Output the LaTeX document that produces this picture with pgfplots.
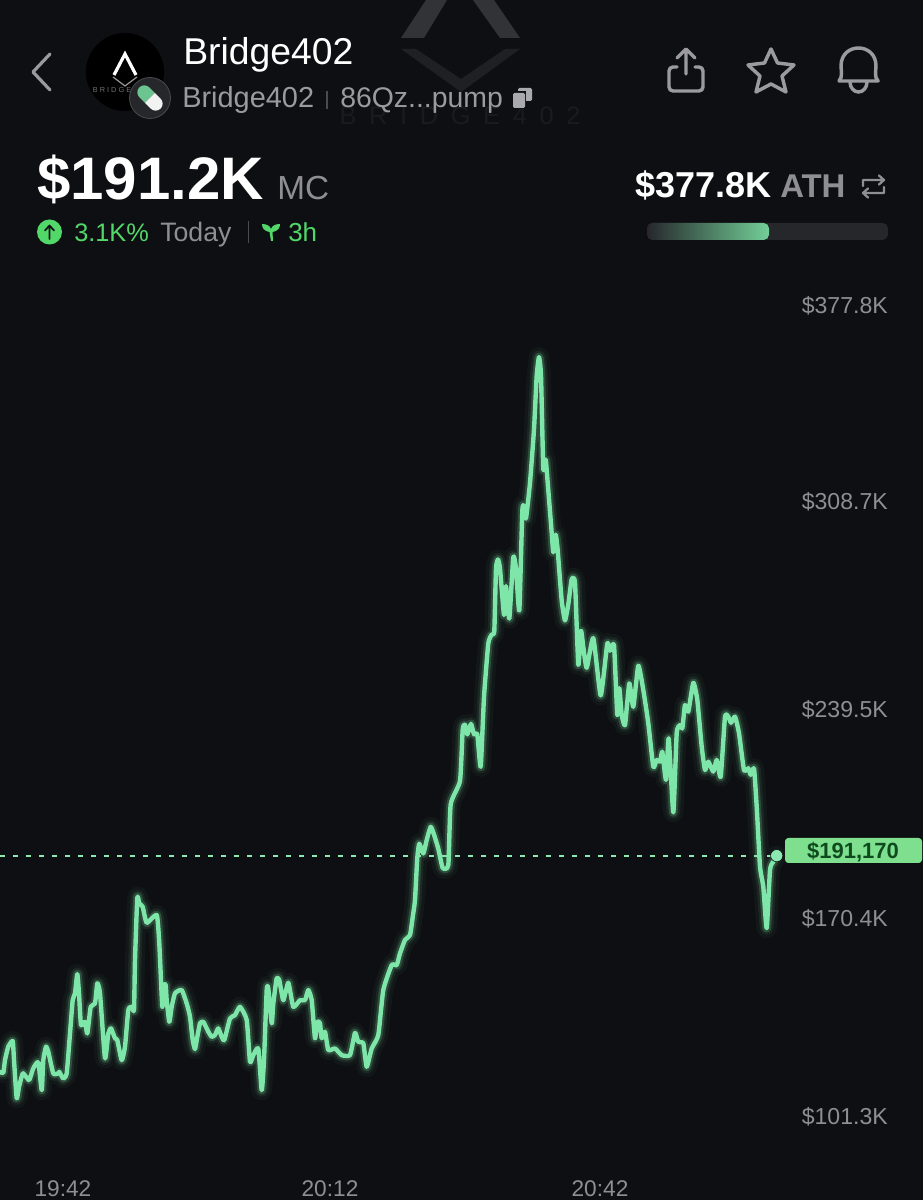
\documentclass[border=0pt]{standalone}
\usepackage{pgfplots}
\usepackage{pgfplotstable}
\usepackage{fontspec}
\setmainfont{Liberation Sans}
\pgfplotsset{compat=1.18}
\definecolor{bg}{HTML}{0E0F13}
\definecolor{line}{HTML}{7FE6A9}
\definecolor{grayt}{HTML}{8E8E93}
\definecolor{grayi}{HTML}{9A9AA0}
\definecolor{greent}{HTML}{52D869}
\definecolor{boxg}{HTML}{7EE08E}
\definecolor{boxt}{HTML}{0F4A1E}
\definecolor{track}{HTML}{26272B}
\newcommand{\fs}[1]{\fontsize{#1}{#1}\selectfont}
\pgfplotstableread{
x v
0 119.1
3.3 118.8
5 123.0
8.3 127.5
12.7 129.4
14 123.0
16.7 110.3
19 114.1
22.7 118.6
26 117.5
29.3 116.4
33.3 120.3
38.3 122.3
41.7 113.0
43.3 123.0
46 127.5
48.3 125.8
53.3 118.6
58.3 118.6
59.3 119.1
63.3 116.9
66.7 118.6
70 131.9
72.7 143.0
75 145.3
77.3 151.7
79 145.3
81 134.7
85 135.8
87.3 131.9
90.7 140.8
95 141.9
97.3 148.6
100 145.3
105 123.6
108.3 131.9
111 133.6
115 130.3
117.3 129.7
121.7 123.0
125 127.5
128.3 139.7
131.7 140.8
134 139.7
135 156.4
137.3 177.1
139.3 175.3
142.7 174.1
146.7 168.8
156.7 171.4
159.3 161.9
162.3 140.8
164 148.0
165.7 148.0
166.7 143.0
169.3 135.8
171.7 140.8
175 145.3
181.7 146.4
186.7 141.9
190 137.5
192.7 129.7
195 126.7
197.3 130.8
200 135.3
203.3 135.8
208.3 132.5
211.7 130.8
215 131.4
218.3 133.6
221.7 130.8
224.3 129.7
230 136.9
235 138.0
240 140.8
246.7 136.4
250 122.5
253.3 124.7
258.3 126.9
261.7 113.0
264 123.0
266.7 146.4
268.3 146.9
271.7 135.3
273.3 141.9
276.7 150.3
279.3 149.7
283.3 143.0
288.3 148.8
293.3 140.8
300 143.0
305 143.0
308.3 146.4
311.7 143.0
315 130.3
317.3 135.8
320 135.3
321.7 130.3
325 132.5
328.3 126.4
335 126.9
341.7 124.7
350 124.7
355 132.1
358.3 129.1
363.3 128.6
366.7 120.8
371.7 126.9
378.3 131.4
383.3 146.4
391.7 154.7
396.7 154.7
400 158.6
405 163.1
410 164.7
413 171.4
415 176.4
417.3 190.5
419.3 195.2
423.3 191.9
426.7 196.4
430.7 200.8
434 198.2
438.3 193.5
442.7 187.1
448.3 188.1
450.7 208.3
460 216.1
462.7 233.3
465 234.8
467.3 231.6
471 235.1
474 231.6
477.3 231.6
480.7 220.8
484 244.1
488.3 261.9
491.7 264.9
494.3 266.1
496 286.9
498 289.9
500 286.9
504 271.4
506 281.0
509.3 270.2
513.3 290.7
516 286.9
519.3 272.9
522.3 306.0
524 307.7
526 303.6
530 315.5
534 333.3
536.7 351.2
539 357.4
541 351.2
543.3 320.2
545.7 323.2
547.7 315.5
551.7 298.8
553.3 292.3
555.7 298.2
557.7 292.9
561.7 276.2
565 269.6
568.3 275.0
571.7 283.3
575 282.1
578.3 254.8
581 266.1
583.3 260.7
586.7 253.8
593.3 263.7
600.7 244.6
607.3 261.9
610 259.5
614 261.3
617.3 238.1
619.3 247.0
621.7 238.1
625 234.7
629.3 248.6
633.3 240.8
638.3 254.5
643.3 246.4
648.3 235.3
653.3 220.8
656.7 223.1
660 222.5
662.3 225.8
666 216.4
668.7 230.3
673.3 205.6
676.7 232.0
680 234.7
682.3 233.6
685 241.4
688.3 239.2
693.3 248.8
697.3 243.1
701.7 227.5
705 219.7
708.3 222.5
713.3 219.2
716.7 223.1
720.7 217.5
725 237.5
728.3 237.5
731 235.5
735 237.5
739 232.0
744 219.7
748.3 220.3
750.7 218.1
754 220.3
756.7 207.5
760 187.5
763.3 180.8
766.7 167.0
770 186.4
773.3 189.2
776.7 191.2
}\mc
\begin{document}
\begin{tikzpicture}
\fill[bg] (0,0) rectangle (692.25pt,900pt);
% header, in pixel coordinates of the reference
\begin{scope}[shift={(0pt,900pt)},x=0.75pt,y=-0.75pt]
  % watermark
  \fill[white!15!bg] (426,0) -- (401,38) -- (424,38) -- (447,0) -- cycle;
  \fill[white!15!bg] (473,0) -- (500,38) -- (520,38) -- (494,0) -- cycle;
  \fill[white!7!bg] (401,49) -- (461,92) -- (520,49) -- (505,49) -- (461,79) -- (416,49) -- cycle;
  \node[white!5!bg,anchor=base,inner sep=0] at (460,125) {\fs{19}B\,\,\,R\,\,\,I\,\,\,D\,\,\,G\,\,\,E\,\,\,4\,\,\,0\,\,\,2};
  % back
  \draw[grayi,line width=2.4pt,line cap=round,line join=round] (50,54) -- (33,72) -- (50,90);
  % avatar
  \fill[black] (125,72) circle (39);
  \draw[white,line width=2.4pt,line join=miter] (114,75) -- (125,54) -- (136,75);
  \draw[white!60!black,line width=.9pt] (113,77) -- (125,86) -- (137,77);
  \node[white!45!black,inner sep=0] at (112,90) {\fs{5.5}B R I D G E};
  \fill[track] (150,98) circle (20.5);
  \draw[white!25!bg,line width=.6pt] (150,98) circle (20.5);
  \begin{scope}[shift={(150,98)},rotate=-45]
    \begin{scope}
      \clip (-25,-25) rectangle (0,25);
      \draw[line!85!black,line width=10.5pt,line cap=round] (-8,0) -- (8,0);
    \end{scope}
    \begin{scope}
      \clip (0,-25) rectangle (25,25);
      \draw[white!90!gray,line width=10.5pt,line cap=round] (-8,0) -- (8,0);
    \end{scope}
  \end{scope}
  % titles
  \node[white,anchor=base west,inner sep=0] at (183,65) {\fs{28}Bridge402};
  \node[grayi,anchor=base west,inner sep=0] at (182,108) {\fs{21.7}Bridge402};
  \draw[white!25!bg,line width=.8pt] (327,91) -- (327,109);
  \node[grayi,anchor=base west,inner sep=0] at (340,108) {\fs{21.3}86Qz...pump};
  \fill[grayi!85!white,rounded corners=1pt] (518,88) rectangle (532,101);
  \fill[bg] (511,91) rectangle (526,109);
  \fill[grayi!85!white,rounded corners=1pt] (513,93) rectangle (525,108);
  % share
  \draw[grayi,line width=2.6pt,line cap=round,line join=round,rounded corners=3pt] (677,67) -- (669,67) -- (669,91) -- (703,91) -- (703,67) -- (695,67);
  \draw[grayi,line width=2.6pt,line cap=round,line join=round] (686,74) -- (686,50) (677,58) -- (686,49) -- (695,58);
  % star
  \draw[grayi,line width=2.6pt,line join=round] (771,49) -- (777.5,63) -- (794,65) -- (782,76) -- (786,92) -- (771,84) -- (756,92) -- (760,76) -- (748,65) -- (764.5,63) -- cycle;
  % bell
  \draw[grayi,line width=2.6pt,line join=round,line cap=round] (839,81) .. controls (843,77) and (841,70) .. (841,66) .. controls (841,42) and (876,42) .. (876,66) .. controls (876,70) and (874,77) .. (878,81) -- cycle;
  \draw[grayi,line width=2.6pt] (850,82) arc (180:0:8.5 and 10);
  % headline
  \node[white,anchor=base west,inner sep=0] at (37,200) {\fs{45}\bfseries\$191.2K};
  \node[grayt,anchor=base west,inner sep=0] at (277,200) {\fs{25}MC};
  \fill[greent] (49.5,232) circle (12.5);
  \draw[bg,line width=1.3pt,line cap=round,line join=round] (49.5,239) -- (49.5,226) (45,230.5) -- (49.5,225.5) -- (54,230.5);
  \node[greent,anchor=base west,inner sep=0] at (74,241.5) {\fs{19}3.1K\%};
  \node[grayt,anchor=base west,inner sep=0] at (160,241.5) {\fs{20}Today};
  \draw[white!25!bg,line width=.7pt] (248,221) -- (248,243);
  \fill[greent] (271,241) -- (269.5,232) .. controls (264,231) and (262,228) .. (262,224) .. controls (267,224) and (270,226) .. (271,229) .. controls (272,226) and (275,224) .. (280,224) .. controls (280,228) and (278,231) .. (272.5,232) -- (273,241) -- cycle;
  \node[greent,anchor=base west,inner sep=0] at (288,241.5) {\fs{19.5}3h};
  \node[white,anchor=base west,inner sep=0] at (635,198) {\fs{27}\bfseries\$377.8K};
  \node[grayt,anchor=base west,inner sep=0] at (780,198) {\fs{24.7}\bfseries ATH};
  \draw[grayt,line width=1.7pt,line cap=round,line join=round]
     (863,186) -- (863,180) -- (884,180) (879,175.5) -- (884,180) -- (879,184.5)
     (884,187) -- (884,193) -- (863,193) (868,188.5) -- (863,193) -- (868,197.5);
  % ATH bar
  \fill[track,rounded corners=4pt] (647,223) rectangle (888,240);
  \begin{scope}
    \clip[rounded corners=4pt] (647,223) rectangle (769,240);
    \shade[left color=track,right color=line!90!black] (647,223) rectangle (769,240);
  \end{scope}
\end{scope}
\begin{axis}[
  at={(0pt,0pt)},anchor=south west,
  scale only axis,width=692.25pt,height=900pt,
  xmin=0,xmax=923,ymin=76.4,ymax=476.4,
  axis line style={draw=none},tick style={draw=none},
  major tick length=0pt,
  xtick={63,330,600},xticklabels={19:42,20:12,20:42},
  ytick={374.7,309.4,240.0,170.4,104.4},
  yticklabels={\$377.8K,\$308.7K,\$239.5K,\$170.4K,\$101.3K},
  yticklabel style={anchor=east,xshift=666pt,yshift=-.8pt,inner sep=0pt,text=grayt,font=\fs{17.3}},
  xticklabel style={anchor=center,yshift=8.5pt,inner sep=0pt,text=grayt,font=\fs{17}},
  clip=true,
]
\addplot[line!90!white,line width=1.3pt,dash pattern=on 3.75pt off 6pt,forget plot] coordinates {(0,191.17)(776.7,191.17)};
\addplot[line,opacity=.04,line width=15pt,smooth,tension=.3,line join=round,line cap=round] table[x=x,y=v]{\mc};
\addplot[line,opacity=.08,line width=10pt,smooth,tension=.3,line join=round,line cap=round] table[x=x,y=v]{\mc};
\addplot[line,opacity=.2,line width=6.5pt,smooth,tension=.3,line join=round,line cap=round] table[x=x,y=v]{\mc};
\addplot[line,line width=3.3pt,smooth,tension=.3,line join=round,line cap=round] table[x=x,y=v]{\mc};
\addplot[only marks,mark=*,mark size=4.6pt,mark options={fill=line!90!white,draw=none}] coordinates {(776.7,191.17)};
\end{axis}
\begin{scope}[shift={(0pt,900pt)},x=0.75pt,y=-0.75pt]
  \fill[boxg,rounded corners=2.5pt] (785,838) rectangle (922,863);
  \node[boxt,anchor=base,inner sep=0] at (853,858.5) {\fs{16.5}\bfseries\$191,170};
\end{scope}
\end{tikzpicture}
\end{document}
